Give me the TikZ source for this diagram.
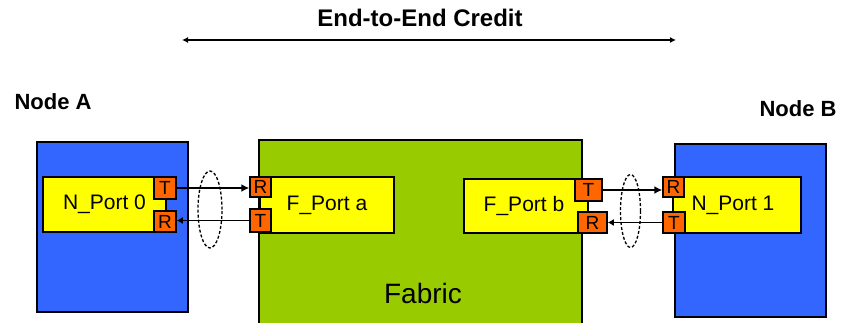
\documentclass[tikz,border=0pt]{standalone}
\usepackage{fontspec}
\setmainfont{Liberation Sans}
\usetikzlibrary{shapes.geometric,arrows.meta}
\definecolor{nodeblue}{RGB}{51,102,255}
\definecolor{fabgreen}{RGB}{153,204,0}
\definecolor{portyellow}{RGB}{255,255,0}
\definecolor{txorange}{RGB}{255,102,0}
\tikzset{
  box/.style={draw=black, line width=1.5pt, inner sep=0pt, anchor=north west},
  nodebox/.style={box, fill=nodeblue},
  fabbox/.style={box, fill=fabgreen},
  portbox/.style={box, fill=portyellow, anchor=center, font=\fontsize{21}{23}\selectfont},
  trbox/.style={box, fill=txorange, anchor=center, font=\fontsize{19}{20}\selectfont},
  link/.style={line width=1.5pt, -{Latex[length=8pt,width=8pt]}},
  linkb/.style={line width=1.5pt, -{Latex[length=6pt,width=7pt]}},
  bundle/.style={ellipse, draw=black, line width=1.3pt, dash pattern=on 3pt off 2pt, inner sep=0pt},
  boldlabel/.style={font=\bfseries\fontsize{22}{24}\selectfont, inner sep=0pt},
}
\begin{document}
\begin{tikzpicture}[x=1pt,y=-1pt]
\useasboundingbox (0,0) rectangle (841,322);
% containers
\node[nodebox, minimum width=151pt, minimum height=170pt] (nodeA) at (36,141) {};
\node[nodebox, minimum width=151pt, minimum height=173pt] (nodeB) at (674,143) {};
\node[fabbox, minimum width=323pt, minimum height=195pt] (fabric) at (258,139) {};
\node[font=\fontsize{28}{30}\selectfont, inner sep=0pt] (fabtext) at (423,293) {Fabric};
% ports
\node[portbox, minimum width=123pt, minimum height=55pt] (np0) at (104.5,204.5) {N\_Port 0};
\node[portbox, minimum width=134pt, minimum height=56pt] (fpa) at (327,205) {F\_Port a};
\node[portbox, minimum width=124pt, minimum height=54pt] (fpb) at (526,206) {\hspace*{-4pt}F\_Port b};
\node[portbox, minimum width=128pt, minimum height=56pt] (np1) at (737,205) {\hspace*{-8pt}N\_Port 1};
% T / R boxes
\node[trbox, minimum width=22pt, minimum height=22pt] (np0T) at (165,188) {T};
\node[trbox, minimum width=22pt, minimum height=21pt] (np0R) at (165,221.5) {R};
\node[trbox, minimum width=21pt, minimum height=20pt] (fpaR) at (260.5,187) {R};
\node[trbox, minimum width=21pt, minimum height=23pt] (fpaT) at (260.5,220.5) {T};
\node[trbox, minimum width=27pt, minimum height=22pt] (fpbT) at (588.5,190) {T};
\node[trbox, minimum width=29pt, minimum height=21pt] (fpbR) at (592.5,222.5) {R};
\node[trbox, minimum width=21pt, minimum height=20pt] (np1R) at (673.5,187) {R};
\node[trbox, minimum width=22pt, minimum height=21pt] (np1T) at (674,222.5) {T};
% links
\draw[link] (np0T.east) -- (np0T.east -| fpaR.west);
\draw[linkb] (fpaT.west) -- (fpaT.west -| np0R.east);
\draw[link] (fpbT.east) -- (fpbT.east -| np1R.west);
\draw[linkb] (np1T.west) -- (np1T.west -| fpbR.east);
% bundles
\node[bundle, minimum width=24pt, minimum height=77pt] (el1) at (210,209.5) {};
\node[bundle, minimum width=20pt, minimum height=73pt] (el2) at (630.5,211) {};
% labels
\node[boldlabel] (labA) at (53,102) {Node A};
\node[boldlabel] (labB) at (798,109) {Node B};
\node[boldlabel, font=\bfseries\fontsize{24}{26}\selectfont] (title) at (420,18) {End-to-End Credit};
\coordinate (eL) at (182,40);
\coordinate (eR) at (676,40);
\draw[line width=1.8pt, {Latex[length=6pt,width=6pt]}-{Latex[length=6pt,width=6pt]}] (eL) -- (eR);
\end{tikzpicture}
\end{document}
